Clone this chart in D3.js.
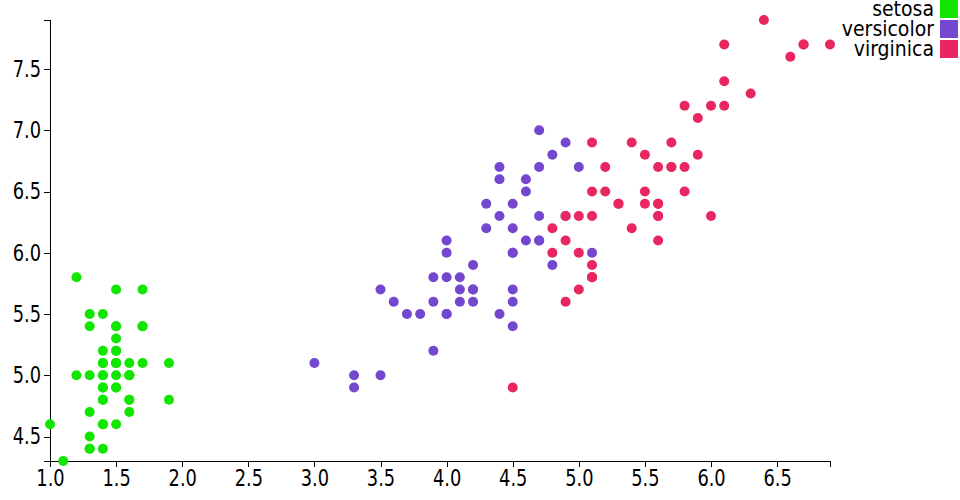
<!DOCTYPE html>
<html>
<head>
<meta charset="utf-8">
<script src="https://cdn.jsdelivr.net/npm/d3@7"></script>
<style>
body { margin: 0; background: #fff; }
svg { display: block; }
.axis path { stroke: #000; shape-rendering: crispEdges; }
.axis line { stroke: #000; shape-rendering: crispEdges; }
.axis text { font-family: "DejaVu Sans Condensed", "DejaVu Sans", sans-serif; font-stretch: condensed; font-size: 23px; fill: #000; }
.legend text { font-family: "DejaVu Sans Condensed", "DejaVu Sans", sans-serif; font-stretch: condensed; font-size: 21px; fill: #000; }
</style>
</head>
<body>
<script>
const species = ["setosa", "versicolor", "virginica"];
const colors = ["#12e600", "#7447cf", "#e9265f"];

const setosaPetal = [1.4,1.4,1.3,1.5,1.4,1.7,1.4,1.5,1.4,1.5,1.5,1.6,1.4,1.1,1.2,1.5,1.3,1.4,1.7,1.5,1.7,1.5,1.0,1.7,1.9,1.6,1.6,1.5,1.4,1.6,1.6,1.5,1.5,1.4,1.5,1.2,1.3,1.4,1.3,1.5,1.3,1.3,1.3,1.6,1.9,1.4,1.6,1.4,1.5,1.4];
const setosaSepal = [5.1,4.9,4.7,4.6,5.0,5.4,4.6,5.0,4.4,4.9,5.4,4.8,4.8,4.3,5.8,5.7,5.4,5.1,5.7,5.1,5.4,5.1,4.6,5.1,4.8,5.0,5.0,5.2,5.2,4.7,4.8,5.4,5.2,5.5,4.9,5.0,5.5,4.9,4.4,5.1,5.0,4.5,4.4,5.0,5.1,4.8,5.1,4.6,5.3,5.0];

const versicolorPetal = [4.7,4.5,4.9,4.0,4.6,4.5,4.7,3.3,4.6,3.9,3.5,4.2,4.0,4.7,3.6,4.4,4.5,4.1,4.5,3.9,4.8,4.0,4.9,4.7,4.3,4.4,4.8,5.0,4.5,3.5,3.8,3.7,3.9,5.1,4.5,4.5,4.7,4.4,4.1,4.0,4.4,4.6,4.0,3.3,4.2,4.2,4.2,4.3,3.0,4.1];
const versicolorSepal = [7.0,6.4,6.9,5.5,6.5,5.7,6.3,4.9,6.6,5.2,5.0,5.9,6.0,6.1,5.6,6.7,5.6,5.8,6.2,5.6,5.9,6.1,6.3,6.1,6.4,6.6,6.8,6.7,6.0,5.7,5.5,5.5,5.8,6.0,5.4,6.0,6.7,6.3,5.6,5.5,5.5,6.1,5.8,5.0,5.6,5.7,5.7,6.2,5.1,5.7];

const virginicaPetal = [6.0,5.1,5.9,5.6,5.8,6.6,4.5,6.3,5.8,6.1,5.1,5.3,5.5,5.0,5.1,5.3,5.5,6.7,6.9,5.0,5.7,4.9,6.7,4.9,5.7,6.0,4.8,4.9,5.6,5.8,6.1,6.4,5.6,5.1,5.6,6.1,5.6,5.5,4.8,5.4,5.6,5.1,5.1,5.9,5.7,5.2,5.0,5.2,5.4,5.1];
const virginicaSepal = [6.3,5.8,7.1,6.3,6.5,7.6,4.9,7.3,6.7,7.2,6.5,6.4,6.8,5.7,5.8,6.4,6.5,7.7,7.7,6.0,6.9,5.6,7.7,6.3,6.7,7.2,6.2,6.1,6.4,7.2,7.4,7.9,6.4,6.3,6.1,7.7,6.3,6.4,6.0,6.9,6.7,6.9,5.8,6.8,6.7,6.7,6.3,6.5,6.2,5.9];

const xTicks = [1.0,1.5,2.0,2.5,3.0,3.5,4.0,4.5,5.0,5.5,6.0,6.5];
const yTicks = [4.5,5.0,5.5,6.0,6.5,7.0,7.5];

const petal = [setosaPetal, versicolorPetal, virginicaPetal];
const sepal = [setosaSepal, versicolorSepal, virginicaSepal];
const points = [];
species.forEach((s, i) => petal[i].forEach((p, j) => points.push({ s: i, x: p, y: sepal[i][j] })));

const W = 960, H = 500;
const plotLeft = 50, plotRight = 830, plotTop = 20, plotBottom = 461;
const squeeze = 0.86;

const svg = d3.select("body").append("svg").attr("width", W).attr("height", H);

const x = d3.scaleLinear().domain(d3.extent(points, d => d.x)).range([plotLeft, plotRight]);
const y = d3.scaleLinear().domain(d3.extent(points, d => d.y)).range([plotBottom, plotTop]);
const color = d3.scaleOrdinal().domain(d3.range(species.length)).range(colors);

const gx = svg.append("g").attr("class", "axis")
  .attr("transform", `translate(0,${plotBottom})`)
  .call(d3.axisBottom(x).tickValues(xTicks).tickFormat(d3.format(".1f")));
gx.selectAll(".tick text").attr("transform", `scale(${squeeze},1)`);

const gy = svg.append("g").attr("class", "axis")
  .attr("transform", `translate(${plotLeft},0)`)
  .call(d3.axisLeft(y).tickValues(yTicks).tickFormat(d3.format(".1f")));
gy.selectAll(".tick text").attr("transform", `scale(${squeeze},1)`).attr("x", -9 / squeeze);

svg.append("g").selectAll("circle").data(points).join("circle")
  .attr("cx", d => x(d.x))
  .attr("cy", d => y(d.y))
  .attr("r", 5)
  .attr("fill", d => color(d.s));

const legend = svg.append("g").attr("class", "legend").selectAll("g").data(species).join("g")
  .attr("transform", (d, i) => `translate(0,${i * 20})`);
legend.append("rect").attr("x", 940).attr("y", 0).attr("width", 18).attr("height", 18)
  .attr("fill", (d, i) => color(i));
legend.append("text").attr("x", 934).attr("y", 9).attr("dy", ".35em")
  .attr("text-anchor", "end").text(d => d);
</script>
</body>
</html>
